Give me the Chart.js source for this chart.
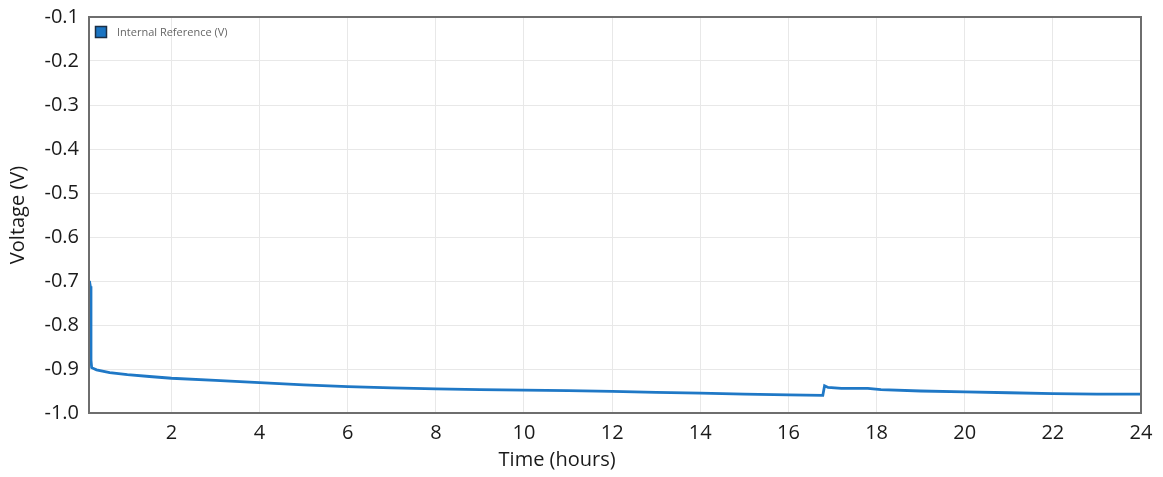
<!DOCTYPE html>
<html>
<head>
<meta charset="utf-8">
<script src="https://cdn.jsdelivr.net/npm/chart.js@4"></script>
<style>
  html, body { margin: 0; padding: 0; background: #ffffff; }
  #wrap { width: 1163px; height: 477px; position: relative; }
</style>
</head>
<body>
<div id="wrap"><canvas id="c" width="1163" height="477"></canvas></div>
<script>
// Internal reference voltage logged over a 24 hour run
const seriesName = 'Internal Reference (V)';
const timeHours = [0.14, 0.16, 0.175, 0.19, 0.3, 0.6, 1.0, 1.5, 2, 3, 4, 5, 6, 7, 8, 9, 10, 11, 12, 13, 14, 15, 16, 16.78, 16.82, 16.9, 17.2, 17.8, 18.1, 19, 20, 21, 22, 23, 24];
const voltage   = [-0.700, -0.712, -0.880, -0.897, -0.902, -0.908, -0.913, -0.917, -0.921, -0.926, -0.931, -0.936, -0.940, -0.943, -0.945, -0.947, -0.948, -0.949, -0.951, -0.953, -0.955, -0.957, -0.959, -0.960, -0.938, -0.942, -0.944, -0.944, -0.947, -0.950, -0.952, -0.954, -0.956, -0.957, -0.957];
const xTickValues = [2, 4, 6, 8, 10, 12, 14, 16, 18, 20, 22, 24];
const yTickValues = [-1.0, -0.9, -0.8, -0.7, -0.6, -0.5, -0.4, -0.3, -0.2, -0.1];
const xTitle = 'Time (hours)';
const yTitle = 'Voltage (V)';

const points = timeHours.map((t, i) => ({ x: t, y: voltage[i] }));

const FONT = '"Open Sans", "Liberation Sans", sans-serif';
const LINE_BLUE = '#1f78c6';

// Frame around the plot area, the in-plot legend and the x-axis title
const framePlugin = {
  id: 'frame',
  afterDraw(chart) {
    const { ctx, chartArea: a } = chart;
    ctx.save();
    ctx.strokeStyle = '#6e6e6e';
    ctx.lineWidth = 2;
    ctx.strokeRect(a.left, a.top, a.right - a.left, a.bottom - a.top);

    // legend swatch + label in the top-left corner of the plot
    const bx = a.left + 6.5, by = a.top + 9.5;
    ctx.fillStyle = '#1a74c2';
    ctx.fillRect(bx, by, 11, 11);
    ctx.strokeStyle = '#1b2f45';
    ctx.lineWidth = 1.5;
    ctx.strokeRect(bx, by, 11, 11);
    ctx.fillStyle = '#666666';
    ctx.font = '11px ' + FONT;
    ctx.textAlign = 'left';
    ctx.textBaseline = 'middle';
    ctx.fillText(chart.data.datasets[0].label, a.left + 28, by + 6);

    ctx.fillStyle = '#1a1a1a';
    ctx.font = '20px ' + FONT;
    ctx.textAlign = 'center';
    ctx.textBaseline = 'middle';
    ctx.fillText(xTitle, a.left + (a.right - a.left) * 0.445, 460);
    ctx.restore();
  }
};

new Chart(document.getElementById('c'), {
  type: 'line',
  data: {
    datasets: [{
      label: seriesName,
      data: points,
      borderColor: LINE_BLUE,
      borderWidth: 2.8,
      pointRadius: 0,
      tension: 0,
      fill: false
    }]
  },
  options: {
    responsive: false,
    animation: false,
    layout: { padding: { left: 0, right: 22, top: 17, bottom: 0 } },
    plugins: {
      legend: { display: false },
      tooltip: { enabled: false }
    },
    scales: {
      x: {
        type: 'linear',
        min: 0.13,
        max: 24,
        afterFit(s) { s.height = 64; s.paddingLeft = 0; s.paddingRight = 0; },
        afterBuildTicks(s) { s.ticks = xTickValues.map(v => ({ value: v })); },
        ticks: {
          includeBounds: false,
          padding: 8,
          color: '#1a1a1a',
          font: { family: FONT, size: 20 },
          maxRotation: 0,
          callback: v => String(v)
        },
        grid: { color: '#e8e8e8', lineWidth: 1, drawTicks: false },
        border: { display: false }
      },
      y: {
        type: 'linear',
        min: -1.0,
        max: -0.1,
        afterFit(s) { s.width = 89; s.paddingTop = 0; s.paddingBottom = 0; },
        afterBuildTicks(s) { s.ticks = yTickValues.map(v => ({ value: v })); },
        ticks: {
          padding: 10,
          color: '#1a1a1a',
          font: { family: FONT, size: 20 },
          callback: v => Number(v).toFixed(1)
        },
        grid: { color: '#e8e8e8', lineWidth: 1, drawTicks: false },
        border: { display: false },
        title: {
          display: true,
          text: yTitle,
          color: '#1a1a1a',
          font: { family: FONT, size: 20 },
          padding: { top: 6, bottom: 0 }
        }
      }
    }
  },
  plugins: [framePlugin]
});
</script>
</body>
</html>
